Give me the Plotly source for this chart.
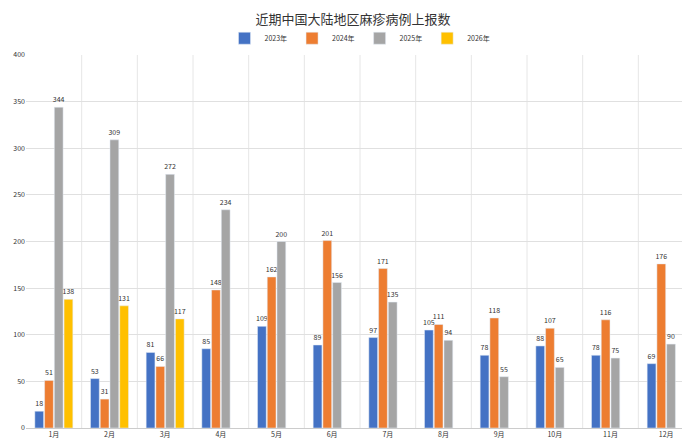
import plotly.graph_objects as go

months = ["1月","2月","3月","4月","5月","6月","7月","8月","9月","10月","11月","12月"]
y2023 = [18,53,81,85,109,89,97,105,78,88,78,69]
y2024 = [51,31,66,148,162,201,171,111,118,107,116,176]
y2025 = [344,309,272,234,200,156,135,94,55,65,75,90]
y2026 = [138,131,117,None,None,None,None,None,None,None,None,None]
names = ["2023年","2024年","2025年","2026年"]
colors = ["#4472C4","#ED7D31","#A5A5A5","#FFC000"]

fig = go.Figure()
for n, c, ys in zip(names, colors, [y2023, y2024, y2025, y2026]):
    fig.add_bar(x=months, y=ys, name=n, marker_color=c,
                text=[("" if v is None else str(v)) for v in ys],
                textposition="outside", textfont=dict(size=7, color="#333"),
                constraintext="none", cliponaxis=False)

fig.update_layout(
    width=690, height=439, barmode="group", bargap=0.3, bargroupgap=0.1,
    paper_bgcolor="white", plot_bgcolor="white",
    margin=dict(l=18, r=4, t=47, b=19),
    font=dict(family="Noto Sans CJK SC", size=8, color="#333"),
    title=dict(text="近期中国大陆地区麻疹病例上报数", x=0.5, y=0.985, xanchor="center",
               yanchor="top", font=dict(size=13, color="#333")),
    legend=dict(orientation="h", x=0.5, xanchor="center", y=1.045, yanchor="middle",
                font=dict(size=7)),
    xaxis=dict(showgrid=False, showline=True, linecolor="#ccc", tickfont=dict(size=7)),
    yaxis=dict(range=[0,400], dtick=50, gridcolor="#e0e0e0", tickfont=dict(size=7),
               zeroline=False),
)
for i in range(1, 12):
    fig.add_vline(x=i-0.5, line_color="#e6e6e6", line_width=1, layer="below")
fig.write_html("out.html")
